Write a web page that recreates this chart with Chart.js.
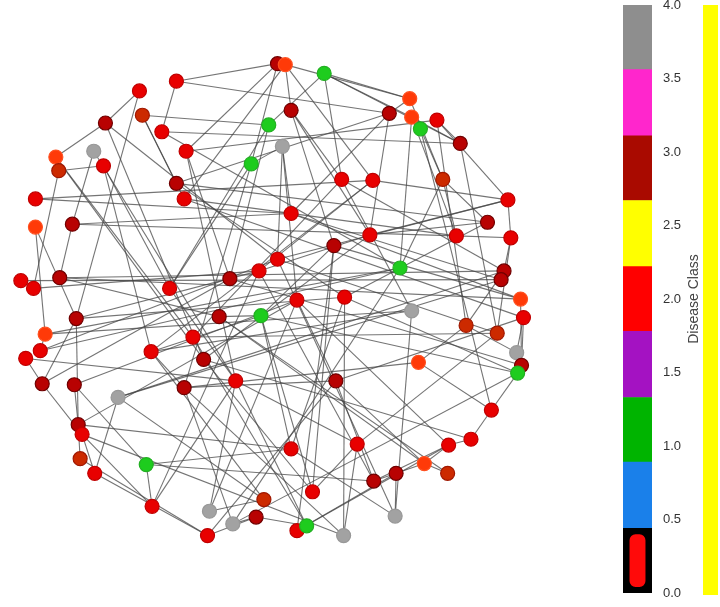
<!DOCTYPE html>
<html>
<head>
<meta charset="utf-8">
<script src="https://cdn.jsdelivr.net/npm/chart.js@4/dist/chart.umd.min.js"></script>
<style>
  body { margin: 0; background: #fff; }
  #net { position: absolute; left: 0; top: 0; width: 590px; height: 607px; }
  #bar { position: absolute; left: 623px; top: 0; width: 97px; height: 607px; }
  #strip { position: absolute; left: 703px; top: 5px; width: 15px; height: 590px; background: #ffff00; }
</style>
</head>
<body>
<div id="net"><canvas id="netChart"></canvas></div>
<div id="bar"><canvas id="barChart"></canvas></div>
<div id="strip"></div>
<script>
// node layout (pixel units of the plot)
var nodeX = [277,285,325,173,135,100,138,158,291,268,413,392,415,424,441,465,88,49,52,98,
             183,250,282,173,181,28,28,66,343,375,447,514,493,517,461,291,372,335,13,26,
             53,166,228,258,277,403,510,507,297,346,415,217,260,70,527,471,503,530,38,33,
             18,190,147,201,234,35,68,113,181,422,337,523,528,524,497,72,76,74,89,142,
             291,359,376,399,453,476,428,452,313,148,207,263,231,255,297,307,345,398,205];
var nodeY = [57,58,67,75,85,118,110,127,105,120,93,108,112,124,115,139,147,153,167,162,
             147,160,142,180,196,196,225,222,176,177,176,197,220,236,234,211,233,244,280,288,
             277,288,278,270,258,267,270,279,300,297,311,317,316,319,299,326,334,318,335,352,
             360,338,353,361,383,386,387,400,390,364,383,354,367,375,413,428,438,463,478,469,
             453,448,486,478,449,443,468,478,497,512,517,505,530,523,537,532,542,522,542];
// r = red, d = dark red, o = orange, o2 = dark orange, g = green, k = grey
var nodeKind = ['d','o','g','r','r','d','o2','r','d','g','o','d','o','g','r','d','k','o','o2','r',
                'r','g','k','d','r','r','o','d','r','r','o2','r','d','r','r','r','r','d','r','r',
                'd','r','d','r','r','g','d','d','r','r','k','d','g','d','o','o2','o2','r','o','r',
                'r','r','r','d','r','d','d','k','d','o','d','k','d','g','r','d','r','o2','r','g',
                'r','r','d','d','r','r','o','o2','r','r','k','o2','k','d','r','g','k','k','r'];

var edges = [
  [4,5],[5,17],[3,7],[18,19],[25,35],[18,39],[27,40],[27,35],[16,27],[19,41],
  [6,24],[7,15],[3,0],[1,8],[1,24],[9,42],[21,41],[21,22],[22,35],[22,44],
  [8,28],[8,37],[1,10],[2,10],[11,35],[11,36],[13,30],[30,34],[14,31],[14,15],
  [12,15],[30,32],[31,33],[34,33],[46,33],[45,30],[40,46],[53,75],[59,58],[60,65],
  [65,76],[66,75],[66,79],[79,89],[79,80],[78,67],[89,64],[62,68],[51,52],[52,88],
  [64,95],[70,48],[70,68],[91,90],[67,91],[92,93],[93,95],[98,93],[78,98],[68,96],
  [96,81],[94,83],[94,84],[88,81],[50,97],[69,55],[69,74],[74,73],[85,74],[84,85],
  [86,84],[86,87],[83,86],[82,83],[97,83],[71,55],[57,72],
  [5,63],[5,44],[6,23],[4,53],[20,42],[20,64],[23,49],[24,57],[19,62],[16,64],
  [17,61],[25,29],[26,58],[26,53],[27,34],[38,47],[39,43],[40,54],[0,20],[1,29],
  [2,15],[2,28],[2,12],[8,36],[10,30],[11,23],[12,45],[13,74],[14,55],[15,56],
  [28,61],[28,50],[29,62],[29,43],[31,36],[32,49],[33,56],[36,63],[37,52],[37,88],
  [43,82],[44,97],[45,58],[45,59],[46,55],[47,67],[48,90],[49,80],[50,62],[51,86],
  [52,73],[54,72],[57,71],[61,95],[63,85],[64,41],[65,53],[68,92],[70,82],[70,57],
  [73,92],[75,80],[76,89],[77,75],[77,98],[78,76],[81,56],[82,84],[90,64],[94,37],
  [96,49],[35,54],[42,72],[44,31],[43,36],[23,32],[7,45],[3,11],[20,14],[6,9],
  [17,63],[40,51],[60,64],[62,52],[66,48],[53,43],
  [2,9],[0,21],[9,41],[21,68],[22,48],[24,34],[35,47],[44,56],[49,73],[48,84],
  [51,87],[52,80],[61,56],[63,88],[64,81],[67,46],[68,69],[70,86],[80,97],[62,91],
  [53,49],[58,50],[59,44],[65,42],[75,48],[76,96],[79,82],[89,43],[98,70],[92,45],
  [31,29],[32,36],[28,46],[37,54],[12,34],[10,11]
];

// colour bar
var bandLow  = [0.00, 0.44, 0.89, 1.33, 1.78, 2.22, 2.67, 3.11, 3.56];
var bandHigh = [0.44, 0.89, 1.33, 1.78, 2.22, 2.67, 3.11, 3.56, 4.00];
var bandColors = ['#000000','#1a80ea','#00b400','#a412c2','#ff0000','#ffff00','#a90a00','#ff26cc','#8e8e8e'];
var tickValues = [0, 0.5, 1, 1.5, 2, 2.5, 3, 3.5, 4];

var kindFill = { r: '#e80000', d: '#b80202', o: '#ff3a08', o2: '#cc2a00', g: '#1ecc1e', k: '#a2a2a2' };
var kindBorder = { r: '#c00000', d: '#700000', o: '#ff5020', o2: '#a01800', g: '#22b022', k: '#989898' };

var nodePoints = nodeX.map(function (x, i) { return { x: x, y: nodeY[i] }; });

var datasets = [{
  label: 'nodes',
  data: nodePoints,
  order: 0,
  pointRadius: 7,
  pointBackgroundColor: nodeKind.map(function (k) { return kindFill[k]; }),
  pointBorderColor: nodeKind.map(function (k) { return kindBorder[k]; }),
  pointBorderWidth: 1.2,
  showLine: false
}];

edges.forEach(function (e) {
  datasets.push({
    data: [nodePoints[e[0]], nodePoints[e[1]]],
    order: 1,
    showLine: true,
    borderColor: 'rgba(70,70,70,0.75)',
    borderWidth: 1.1,
    pointRadius: 0
  });
});

new Chart(document.getElementById('netChart').getContext('2d'), {
  type: 'scatter',
  data: { datasets: datasets },
  options: {
    responsive: true,
    maintainAspectRatio: false,
    animation: false,
    layout: { padding: 0 },
    plugins: { legend: { display: false }, tooltip: { enabled: false } },
    scales: {
      x: { display: false, min: 0, max: 590 },
      y: { display: false, min: 0, max: 607, reverse: true }
    }
  }
});

var barSets = bandLow.map(function (lo, i) {
  return {
    data: [[lo, bandHigh[i]]],
    backgroundColor: bandColors[i],
    grouped: false,
    barPercentage: 1,
    categoryPercentage: 1,
    order: 2
  };
});
// red blob inside the black band
barSets.push({
  data: [[0.04, 0.40]],
  backgroundColor: '#ff0a0a',
  grouped: false,
  barPercentage: 0.55,
  categoryPercentage: 1,
  borderRadius: 6,
  borderSkipped: false,
  order: 0
});

var barTitle = {
  id: 'barTitle',
  afterDraw: function (chart) {
    var c = chart.ctx, a = chart.chartArea;
    c.save();
    c.translate(a.right + 42, (a.top + a.bottom) / 2);
    c.rotate(-Math.PI / 2);
    c.font = '14px Arial, "Liberation Sans", sans-serif';
    c.fillStyle = '#444';
    c.textAlign = 'center';
    c.textBaseline = 'middle';
    c.fillText('Disease Class', 0, 0);
    c.restore();
  }
};

new Chart(document.getElementById('barChart').getContext('2d'), {
  type: 'bar',
  data: { labels: [''], datasets: barSets },
  options: {
    responsive: true,
    maintainAspectRatio: false,
    animation: false,
    layout: { padding: { top: 5, bottom: 14, left: 0, right: 0 } },
    plugins: { legend: { display: false }, tooltip: { enabled: false } },
    scales: {
      x: { display: false },
      y: {
        position: 'right',
        min: 0,
        max: 4,
        afterBuildTicks: function (s) { s.ticks = tickValues.map(function (v) { return { value: v }; }); },
        afterFit: function (s) { s.width = 68; s.paddingTop = 0; s.paddingBottom = 0; },
        grid: { display: false, drawTicks: false },
        border: { display: false },
        ticks: {
          padding: 11,
          color: '#333',
          font: { size: 13, family: 'Arial, "Liberation Sans", sans-serif' },
          callback: function (v) { return Number(v).toFixed(1); }
        }
      }
    }
  },
  plugins: [barTitle]
});
</script>
</body>
</html>
